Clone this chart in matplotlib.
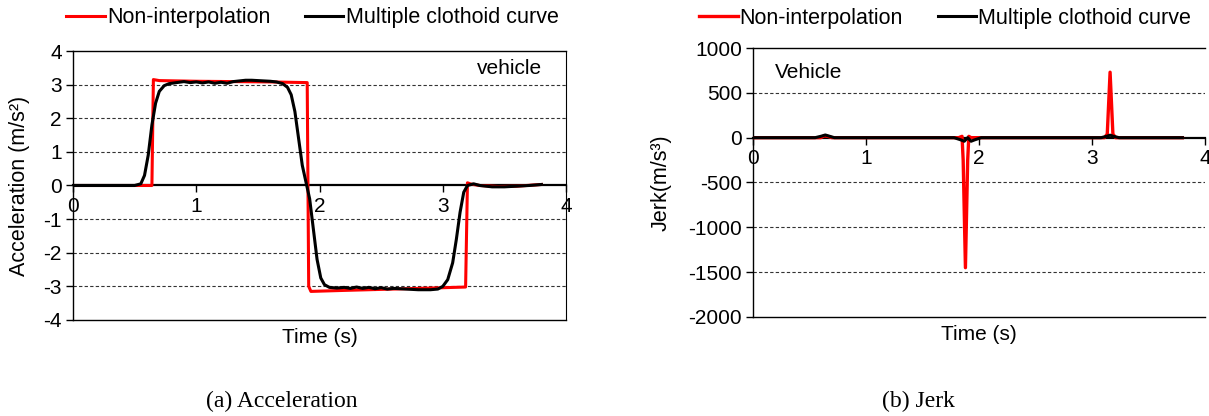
"""Acceleration and jerk comparison: non-interpolation vs multiple clothoid curve."""

import numpy as np
import matplotlib.pyplot as plt

plt.rcParams['font.family'] = ['Liberation Sans', 'DejaVu Sans']
plt.rcParams['axes.unicode_minus'] = False

# ---- Acceleration, non-interpolation (red) ----
acc_red_t = [0.0, 0.64, 0.652, 0.70, 1.0, 1.3, 1.6, 1.90, 1.912, 1.93, 2.2, 2.6, 3.0, 3.185,
             3.20, 3.23, 3.30, 3.45, 3.6, 3.8]
acc_red_a = [0.0, 0.0, 3.15, 3.12, 3.10, 3.09, 3.08, 3.06, -3.0, -3.15, -3.12, -3.08, -3.04, -3.02,
             0.08, 0.04, 0.0, -0.03, -0.02, 0.03]

# ---- Acceleration, multiple clothoid curve (black) ----
acc_blk_t = [0.0, 0.50, 0.55, 0.58, 0.61, 0.64, 0.67, 0.70, 0.74, 0.78, 0.84, 0.90, 0.95, 1.0,
             1.05, 1.10, 1.15, 1.20, 1.25, 1.30, 1.35, 1.40, 1.45, 1.50, 1.55, 1.60, 1.65,
             1.70, 1.74, 1.77, 1.80, 1.83, 1.86, 1.89, 1.92, 1.95, 1.98, 2.01, 2.04, 2.08,
             2.14, 2.20, 2.25, 2.30, 2.35, 2.40, 2.45, 2.50, 2.55, 2.60, 2.70, 2.80, 2.90,
             2.96, 3.00, 3.04, 3.08, 3.11, 3.14, 3.17, 3.20, 3.25, 3.30, 3.40, 3.50, 3.60,
             3.70, 3.80]
acc_blk_a = [0.0, 0.0, 0.05, 0.3, 0.9, 1.8, 2.45, 2.8, 2.97, 3.03, 3.06, 3.09, 3.06, 3.08,
             3.05, 3.08, 3.04, 3.07, 3.04, 3.09, 3.11, 3.13, 3.13, 3.12, 3.11, 3.10, 3.08,
             3.03, 2.92, 2.7, 2.2, 1.4, 0.6, 0.1, -0.4, -1.3, -2.2, -2.75, -2.95, -3.03,
             -3.05, -3.03, -3.06, -3.02, -3.06, -3.03, -3.07, -3.04, -3.08, -3.06, -3.08,
             -3.10, -3.10, -3.08, -3.0, -2.8, -2.3, -1.6, -0.8, -0.2, 0.0, 0.05, 0.0, -0.04,
             -0.04, -0.02, 0.0, 0.03]

# ---- Jerk, non-interpolation (red) ----
jerk_red_t = [0.0, 0.60, 0.63, 0.66, 0.70, 1.82, 1.85, 1.86, 1.88, 1.90, 1.91, 1.93, 1.96,
              3.11, 3.135, 3.16, 3.185, 3.21, 3.80]
jerk_red_j = [0.0, 0.0, 20, 15, 0.0, 0.0, 15, -250, -1450, -250, 15, 0.0, 0.0,
              0.0, 40, 730, 40, 0.0, 0.0]

# ---- Jerk, multiple clothoid curve (black) ----
jerk_blk_t = [0.0, 0.55, 0.60, 0.64, 0.68, 0.72, 1.78, 1.84, 1.87, 1.90, 1.93, 1.96, 2.02,
              3.08, 3.13, 3.16, 3.19, 3.24, 3.80]
jerk_blk_j = [0.0, 0.0, 15, 30, 15, 0.0, 0.0, -25, -40, 0.0, -40, -25, 0.0,
              0.0, 15, 28, 15, 0.0, 0.0]

RED = '#FF0000'
GRID_KW = dict(color='#333333', lw=0.8, ls=(0, (3, 2)), zorder=0)
FS = 15


def style_axes(ax, ylim, yticks, label, label_x, right_spine):
    """Excel-like frame: x-axis through zero, dashed horizontal grid."""
    ax.set_xlim(0, 4)
    ax.set_ylim(*ylim)
    ax.set_yticks(yticks)
    ax.set_xticks(np.arange(0, 5, 1))

    for y in yticks:
        if y not in (0, ylim[0], ylim[1]):
            ax.axhline(y, **GRID_KW)

    # x-axis drawn through zero, bottom frame kept as plain line
    ax.spines['bottom'].set_position(('data', 0))
    ax.spines['bottom'].set_linewidth(1.6)
    ax.plot([0, 1], [0, 0], transform=ax.transAxes, color='black', lw=1.0,
            clip_on=False, zorder=5)
    ax.spines['top'].set_linewidth(1.0)
    ax.spines['left'].set_linewidth(1.0)
    ax.spines['right'].set_visible(right_spine)
    ax.spines['right'].set_linewidth(0.8)

    ax.tick_params(axis='x', direction='out', length=5, width=1, pad=3, labelsize=FS)
    ax.tick_params(axis='y', direction='out', length=5, width=1, pad=3, labelsize=FS)

    ax.set_ylabel(label, fontsize=FS + 0.5)
    ax.yaxis.set_label_coords(label_x, 0.5)
    ax.set_xlabel('Time (s)', fontsize=FS)
    ax.xaxis.set_label_coords(0.5, -0.03)


fig = plt.figure(figsize=(12.09, 4.16), dpi=100)
ax1 = fig.add_axes([0.0604, 0.2308, 0.4078, 0.6466])
ax2 = fig.add_axes([0.6228, 0.2380, 0.3739, 0.6466])

# Left: acceleration
ax1.plot(acc_red_t, acc_red_a, color=RED, lw=2.2, label='Non-interpolation', zorder=3)
ax1.plot(acc_blk_t, acc_blk_a, color='black', lw=2.2, label='Multiple clothoid curve', zorder=4)
style_axes(ax1, (-4, 4), np.arange(-4, 5, 1), 'Acceleration (m/s²)', -0.087, True)
ax1.text(3.28, 3.48, 'vehicle', fontsize=FS, va='center', ha='left')

# Right: jerk
ax2.plot(jerk_red_t, jerk_red_j, color=RED, lw=2.4, label='Non-interpolation', zorder=3)
ax2.plot(jerk_blk_t, jerk_blk_j, color='black', lw=2.2, label='Multiple clothoid curve', zorder=4)
style_axes(ax2, (-2000, 1000), np.arange(-2000, 1001, 500), 'Jerk(m/s³)', -0.179, False)
ax2.text(0.19, 730, 'Vehicle', fontsize=FS, va='center', ha='left')

legend_kw = dict(loc='center', ncol=2, frameon=False, fontsize=FS + 0.5, handlelength=1.8,
                 handletextpad=0.1, columnspacing=1.6)
ax1.legend(bbox_to_anchor=(0.485, 1.123), **legend_kw)
ax2.legend(bbox_to_anchor=(0.425, 1.111), **legend_kw)

# Captions under each panel
fig.text(0.233, 0.034, '(a) Acceleration', family='Liberation Serif', fontsize=17,
         ha='center', va='center')
fig.text(0.760, 0.034, '(b) Jerk', family='Liberation Serif', fontsize=17,
         ha='center', va='center')

fig.savefig('out.png', dpi=100)
